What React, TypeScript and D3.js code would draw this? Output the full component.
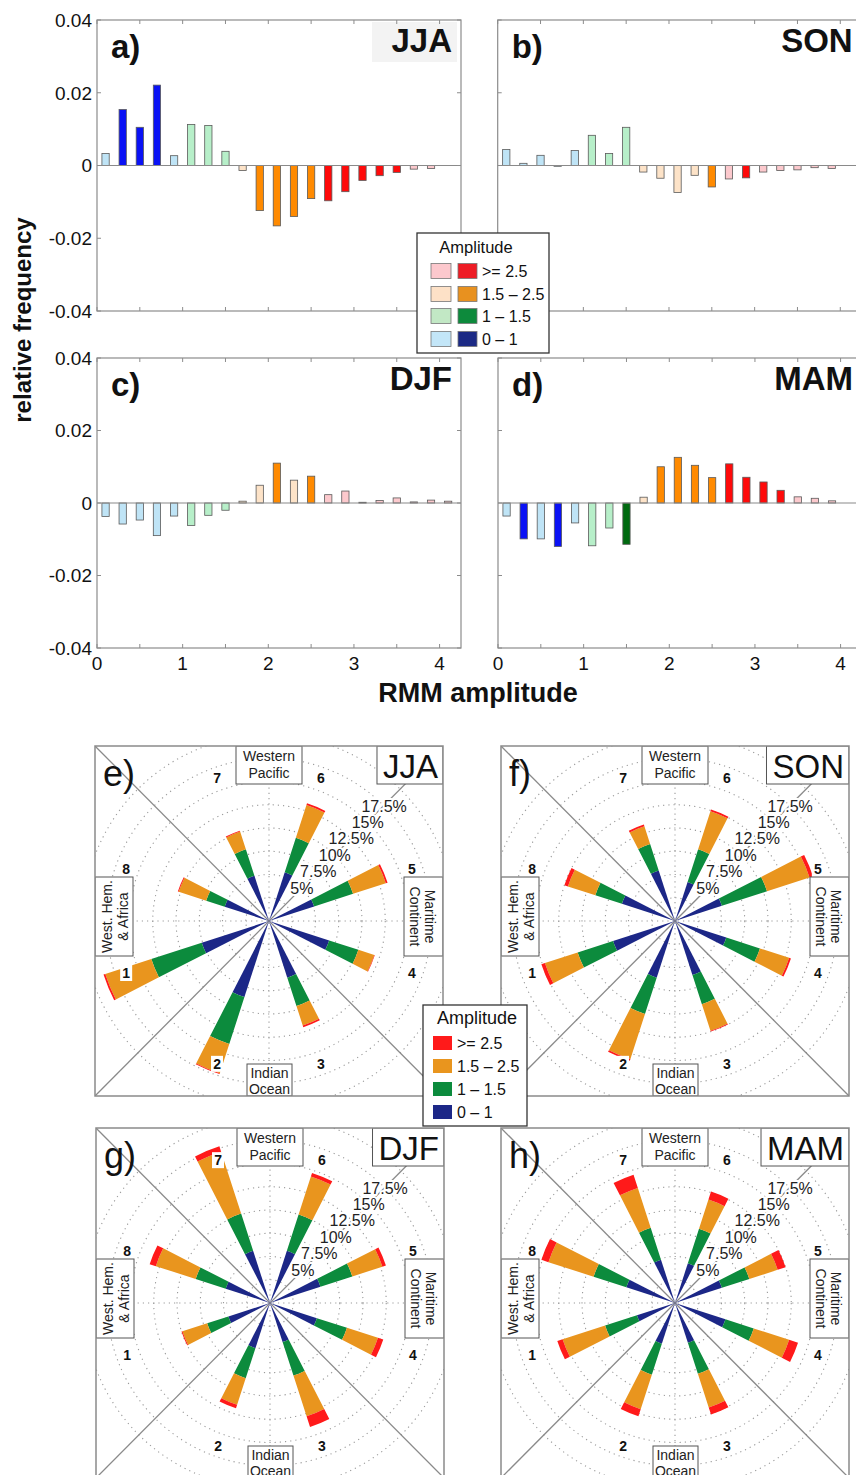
import React from "react";
import * as d3 from "d3";

const FONT = "'Liberation Sans', Arial, Helvetica, sans-serif";

// ---------------- Bar-chart data (relative frequency per RMM amplitude bin) ----------------
const binCenters = [0.1, 0.3, 0.5, 0.7, 0.9, 1.1, 1.3, 1.5, 1.7, 1.9, 2.1, 2.3, 2.5, 2.7, 2.9, 3.1, 3.3, 3.5, 3.7, 3.9, 4.1];

const freqJJA = [0.0033, 0.0154, 0.0105, 0.0221, 0.0027, 0.0113, 0.011, 0.0039, -0.0014, -0.0124, -0.0166, -0.014, -0.0091, -0.0097, -0.0072, -0.0041, -0.0028, -0.0019, -0.001, -0.0008, 0];
const sigJJA = [0, 1, 1, 1, 0, 0, 0, 0, 0, 1, 1, 1, 1, 1, 1, 1, 1, 1, 0, 0, 0];

const freqSON = [0.0044, 0.0006, 0.0028, -0.0002, 0.0041, 0.0083, 0.0033, 0.0105, -0.0018, -0.0035, -0.0074, -0.0027, -0.0059, -0.0037, -0.0034, -0.0018, -0.0014, -0.0012, -0.0006, -0.0008, 0];
const sigSON = [0, 0, 0, 0, 0, 0, 0, 0, 0, 0, 0, 0, 1, 0, 1, 0, 0, 0, 0, 0, 0];

const freqDJF = [-0.0037, -0.0058, -0.0047, -0.009, -0.0036, -0.0062, -0.0034, -0.002, 0.0005, 0.0049, 0.011, 0.0063, 0.0074, 0.0023, 0.0033, 0.0002, 0.0007, 0.0014, 0.0003, 0.0008, 0.0005];
const sigDJF = [0, 0, 0, 0, 0, 0, 0, 0, 0, 0, 1, 0, 1, 0, 0, 0, 0, 0, 0, 0, 0];

const freqMAM = [-0.0036, -0.0099, -0.0099, -0.012, -0.0055, -0.0118, -0.0069, -0.0114, 0.0016, 0.01, 0.0126, 0.0104, 0.007, 0.0108, 0.0071, 0.0058, 0.0035, 0.0017, 0.0013, 0.0006, 0];
const sigMAM = [0, 1, 0, 1, 0, 0, 0, 1, 0, 1, 1, 1, 1, 1, 1, 1, 1, 0, 0, 0, 0];

const yTickValues = [-0.04, -0.02, 0, 0.02, 0.04];
const yTickLabels = ["-0.04", "-0.02", "0", "0.02", "0.04"];
const xTickValues = [0, 1, 2, 3, 4];
const xTickLabels = ["0", "1", "2", "3", "4"];
const xMinorTickValues = [0, 0.5, 1, 1.5, 2, 2.5, 3, 3.5, 4];

// ---------------- Phase-rose data (% of days per phase, by amplitude class) ----------------
const phaseNames = ["1", "2", "3", "4", "5", "6", "7", "8"];

const blueJJA = [7.6, 8.6, 6.4, 6.8, 5.1, 5.5, 5.1, 5.0];
const greenJJA = [5.7, 5.3, 3.2, 3.3, 4.4, 3.9, 3.0, 2.1];
const orangeJJA = [5.2, 3.3, 2.2, 1.8, 3.7, 3.7, 2.0, 3.1];
const redJJA = [0.2, 0.1, 0.2, 0.05, 0.2, 0.2, 0.1, 0.1];

const blueSON = [7.0, 6.4, 6.1, 5.8, 5.3, 4.4, 5.7, 6.0];
const greenSON = [4.0, 4.1, 3.3, 3.8, 5.1, 3.7, 3.0, 3.0];
const orangeSON = [3.7, 5.1, 3.0, 3.3, 4.8, 4.3, 2.0, 3.1];
const redSON = [0.4, 0.2, 0.1, 0.2, 0.4, 0.2, 0.2, 0.4];

const blueDJF = [4.7, 5.1, 4.4, 5.3, 5.7, 5.9, 5.9, 5.0];
const greenDJF = [2.4, 3.4, 3.8, 3.4, 3.6, 4.1, 4.2, 3.4];
const orangeDJF = [2.8, 3.0, 4.6, 3.5, 3.4, 4.3, 7.0, 4.5];
const redDJF = [0.1, 0.4, 1.2, 0.6, 0.4, 0.4, 0.6, 0.7];

const blueMAM = [4.3, 4.6, 4.5, 5.7, 5.3, 4.5, 4.9, 5.5];
const greenMAM = [3.6, 3.5, 3.5, 3.2, 3.1, 3.9, 3.6, 3.7];
const orangeMAM = [4.8, 3.9, 3.8, 4.0, 3.2, 3.3, 4.5, 5.1];
const redMAM = [0.6, 0.8, 0.8, 1.0, 0.9, 0.9, 1.5, 0.8];

const ringPercents = [2.5, 5, 7.5, 10, 12.5, 15, 17.5, 20];
const ringLabelPercents = [5, 7.5, 10, 12.5, 15, 17.5];
const ringLabels = ["5%", "7.5%", "10%", "12.5%", "15%", "17.5%"];

const ampLabels = [">= 2.5", "1.5 \u2013 2.5", "1 \u2013 1.5", "0 \u2013 1"];

// ---------------- colours ----------------
const roseColors = ["#1c2787", "#0c8b3d", "#e9951e", "#ff1a1a"]; // 0-1, 1-1.5, 1.5-2.5, >=2.5
const legendDark = ["#ee1c25", "#e8911f", "#0d8a3c", "#1c2a85"];
const legendLight = ["#fcc8cd", "#fde1c7", "#c2e8c5", "#c3e6f8"];

function barColor(c: number, sig: number) {
  if (c < 1) return sig ? "#0a12f5" : "#bfe4f6";
  if (c < 1.6) return sig ? "#006a10" : "#b7efc9";
  if (c < 2.6) return sig ? "#ff8a00" : "#fde3c8";
  return sig ? "#ff0a0a" : "#fcc9cd";
}

const charW: Record<string, number> = { J: 0.5, A: 0.667, S: 0.667, O: 0.778, N: 0.722, D: 0.722, F: 0.611, M: 0.833 };

// ---------------- Bar panel ----------------
function BarPanel(props: {
  x0: number; yTop: number; yBot: number; tag: string; season: string;
  freq: number[]; sig: number[]; yLabels: boolean; xLabels: boolean; seasonBg?: boolean;
}) {
  const { x0, yTop, yBot, tag, season, freq, sig, yLabels, xLabels, seasonBg } = props;
  const xs = d3.scaleLinear().domain([0, 4.25]).range([x0, x0 + 364]);
  const ys = d3.scaleLinear().domain([-0.04, 0.04]).range([yBot, yTop]);
  const xr = xs(4.25);
  const bw = xs(0.085) - xs(0);
  const tickLen = 4;
  const frame = "#8c8c8c";
  return (
    <g>
      <rect x={x0} y={yTop} width={xr - x0} height={yBot - yTop} fill="white" stroke="none" />
      {seasonBg && <rect x={xr - 89} y={yTop + 2} width={85} height={40} fill="#f3f3f3" />}
      {binCenters.map((c, i) => {
        const v = freq[i];
        if (Math.abs(v) < 1e-6) return null;
        const yA = ys(Math.max(v, 0));
        const yB = ys(Math.min(v, 0));
        return (
          <rect key={i} x={xs(c) - bw / 2} y={yA} width={bw} height={Math.max(yB - yA, 0.8)}
            fill={barColor(c, sig[i])} stroke="#5a5a5a" strokeWidth={0.8} />
        );
      })}
      <line x1={x0} x2={xr} y1={ys(0)} y2={ys(0)} stroke="#8a8a8a" strokeWidth={1.2} />
      {xMinorTickValues.map((t) => (
        <g key={"xt" + t}>
          <line x1={xs(t)} x2={xs(t)} y1={yTop} y2={yTop + tickLen} stroke={frame} />
          <line x1={xs(t)} x2={xs(t)} y1={yBot} y2={yBot - tickLen} stroke={frame} />
        </g>
      ))}
      {yTickValues.map((t) => (
        <g key={"yt" + t}>
          <line x1={x0} x2={x0 + tickLen} y1={ys(t)} y2={ys(t)} stroke={frame} />
          <line x1={xr} x2={xr - tickLen} y1={ys(t)} y2={ys(t)} stroke={frame} />
        </g>
      ))}
      <rect x={x0} y={yTop} width={xr - x0} height={yBot - yTop} fill="none" stroke={frame} strokeWidth={1.2} />
      {yLabels && yTickValues.map((t, i) => (
        <text key={"yl" + t} x={x0 - 5} y={ys(t)} dy="0.36em" textAnchor="end" fontSize={19} fill="#111">{yTickLabels[i]}</text>
      ))}
      {xLabels && xTickValues.map((t, i) => (
        <text key={"xl" + t} x={xs(t)} y={yBot + 15} dy="0.36em" textAnchor="middle" fontSize={19} fill="#111">{xTickLabels[i]}</text>
      ))}
      <text x={x0 + 14} y={yTop + 38} fontSize={33} fontWeight="bold" fill="#111">{tag}</text>
      <text x={xr - 9} y={yTop + 32} fontSize={33} fontWeight="bold" textAnchor="end" fill="#111">{season}</text>
    </g>
  );
}

// ---------------- Rose panel ----------------
function RosePanel(props: {
  cx: number; cy: number; tag: string; season: string; id: string;
  blue: number[]; green: number[]; orange: number[]; red: number[];
}) {
  const { cx, cy, tag, season, id, blue, green, orange, red } = props;
  const hw = 174, hh = 175;
  const L = cx - hw, R = cx + hw, T = cy - hh, B = cy + hh;
  const rs = d3.scaleLinear().domain([0, 20]).range([0, 186]);
  const arc = d3.arc<any>();
  const rad = (d: number) => (d * Math.PI) / 180;
  const petalAngle = (i: number) => 247.5 - 45 * i;
  const labelAngle = [250, 200, 160, 110, 70, 20, -20, -70];
  const halfW = 4.6;
  const seasonW = season.split("").reduce((s, ch) => s + (charW[ch] || 0.7), 0) * 33 + 11;
  const grid = "#9a9a9a";
  return (
    <g>
      <defs>
        <clipPath id={id}>
          <rect x={L} y={T} width={R - L} height={B - T} />
        </clipPath>
      </defs>
      <rect x={L} y={T} width={R - L} height={B - T} fill="white" />
      <g clipPath={`url(#${id})`}>
        {ringPercents.map((p) => (
          <circle key={p} cx={cx} cy={cy} r={rs(p)} fill="none" stroke={grid} strokeWidth={1.1} strokeDasharray="1.2 4" />
        ))}
        <line x1={L} x2={R} y1={cy} y2={cy} stroke={grid} strokeWidth={1.1} strokeDasharray="1.2 4" />
        <line x1={cx} x2={cx} y1={T} y2={B} stroke={grid} strokeWidth={1.1} strokeDasharray="1.2 4" />
        <line x1={L} y1={T} x2={R} y2={B} stroke="#8a8a8a" strokeWidth={1.3} />
        <line x1={L} y1={B} x2={R} y2={T} stroke="#8a8a8a" strokeWidth={1.3} />
        <g transform={`translate(${cx},${cy})`}>
          {phaseNames.map((ph, i) => {
            const segs = [blue[i], green[i], orange[i], red[i]];
            let acc = 0;
            const a = petalAngle(i);
            return (
              <g key={ph}>
                {segs.map((v, j) => {
                  const inner = acc;
                  acc += v;
                  if (v < 0.01) return null;
                  const d = arc({
                    innerRadius: rs(inner), outerRadius: rs(acc),
                    startAngle: rad(a - halfW), endAngle: rad(a + halfW),
                  });
                  return <path key={j} d={d || ""} fill={roseColors[j]} />;
                })}
              </g>
            );
          })}
          {ringLabelPercents.map((p, i) => {
            const r = rs(p);
            return (
              <text key={p} x={r * Math.SQRT1_2} y={-r * Math.SQRT1_2} dy="0.35em" textAnchor="middle"
                fontSize={16} fill="#222" stroke="white" strokeWidth={4} paintOrder="stroke" strokeLinejoin="round">{ringLabels[i]}</text>
            );
          })}
          {phaseNames.map((ph, i) => {
            const a = rad(labelAngle[i]);
            const px = 152 * Math.sin(a);
            const py = -152 * Math.cos(a);
            return (
              <g key={"pl" + ph}>
                <rect x={px - 6} y={py - 8} width={12} height={16} fill="white" />
                <text x={px} y={py} dy="0.36em" textAnchor="middle" fontSize={14} fontWeight="bold" fill="#111">{ph}</text>
              </g>
            );
          })}
        </g>
        {/* region boxes */}
        <rect x={cx - 33} y={T} width={66} height={38} fill="white" stroke="#555" strokeWidth={1} />
        <text x={cx} y={T + 15} textAnchor="middle" fontSize={14} fill="#222">Western</text>
        <text x={cx} y={T + 32} textAnchor="middle" fontSize={14} fill="#222">Pacific</text>

        <rect x={cx - 22} y={B - 32} width={45} height={32} fill="white" stroke="#555" strokeWidth={1} />
        <text x={cx + 0.5} y={B - 18} textAnchor="middle" fontSize={14} fill="#222">Indian</text>
        <text x={cx + 0.5} y={B - 2} textAnchor="middle" fontSize={14} fill="#222">Ocean</text>

        <rect x={L} y={cy - 44} width={38} height={79} fill="white" stroke="#555" strokeWidth={1} />
        <text transform={`translate(${L + 17},${cy - 4.5}) rotate(-90)`} textAnchor="middle" fontSize={14} fill="#222">West. Hem.</text>
        <text transform={`translate(${L + 33},${cy - 4.5}) rotate(-90)`} textAnchor="middle" fontSize={14} fill="#222">&amp; Africa</text>

        <rect x={R - 39} y={cy - 44} width={39} height={79} fill="white" stroke="#555" strokeWidth={1} />
        <text transform={`translate(${R - 18},${cy - 4.5}) rotate(90)`} textAnchor="middle" fontSize={14} fill="#222">Maritime</text>
        <text transform={`translate(${R - 33},${cy - 4.5}) rotate(90)`} textAnchor="middle" fontSize={14} fill="#222">Continent</text>

        {/* season box */}
        <rect x={R - seasonW} y={T} width={seasonW} height={38} fill="white" stroke="#555" strokeWidth={1} />
        <text x={R - 5} y={T + 32} textAnchor="end" fontSize={33} fill="#111">{season}</text>
        <text x={L + 8} y={T + 40} fontSize={36} fill="#111">{tag}</text>
      </g>
      <rect x={L} y={T} width={R - L} height={B - T} fill="none" stroke="#8a8a8a" strokeWidth={1.5} />
    </g>
  );
}

function BarLegend() {
  const rows = [271, 294, 316, 339];
  return (
    <g>
      <rect x={417} y={233} width={132} height={120} fill="white" stroke="#333" strokeWidth={1.3} />
      <text x={476} y={253} textAnchor="middle" fontSize={16.5} fill="#111">Amplitude</text>
      {rows.map((y, i) => (
        <g key={i}>
          <rect x={431} y={y - 7.5} width={20} height={15} fill={legendLight[i]} stroke="#777" strokeWidth={0.8} />
          <rect x={458} y={y - 7.5} width={19} height={15} fill={legendDark[i]} stroke="#777" strokeWidth={0.8} />
          <text x={482} y={y} dy="0.36em" fontSize={16} fill="#111">{ampLabels[i]}</text>
        </g>
      ))}
    </g>
  );
}

function RoseLegend() {
  const rows = [1043, 1066, 1089, 1112];
  const cols = [roseColors[3], roseColors[2], roseColors[1], roseColors[0]];
  return (
    <g>
      <rect x={423} y={1005} width={104} height={121} fill="white" stroke="#333" strokeWidth={1.3} />
      <text x={477} y={1024} textAnchor="middle" fontSize={18} fill="#111">Amplitude</text>
      {rows.map((y, i) => (
        <g key={i}>
          <rect x={433} y={y - 7} width={19} height={14} fill={cols[i]} />
          <text x={457} y={y} dy="0.36em" fontSize={16} fill="#111">{ampLabels[i]}</text>
        </g>
      ))}
    </g>
  );
}

export default function App() {
  return (
    <svg width={856} height={1475} style={{ position: "absolute", left: 0, top: 0, background: "white" }}
      fontFamily={FONT}>
      <rect x={0} y={0} width={856} height={1475} fill="white" />
      <BarPanel x0={97} yTop={20} yBot={311} tag="a)" season="JJA" freq={freqJJA} sig={sigJJA} yLabels={true} xLabels={false} seasonBg={true} />
      <BarPanel x0={497.7} yTop={20} yBot={311} tag="b)" season="SON" freq={freqSON} sig={sigSON} yLabels={false} xLabels={false} />
      <BarPanel x0={97} yTop={358} yBot={648} tag="c)" season="DJF" freq={freqDJF} sig={sigDJF} yLabels={true} xLabels={true} />
      <BarPanel x0={498} yTop={358} yBot={648} tag="d)" season="MAM" freq={freqMAM} sig={sigMAM} yLabels={false} xLabels={true} />
      <text transform="translate(31,320) rotate(-90)" textAnchor="middle" fontSize={24} fontWeight="bold" fill="#111">relative frequency</text>
      <text x={478} y={702} textAnchor="middle" fontSize={27} fontWeight="bold" fill="#111">RMM amplitude</text>
      <BarLegend />

      <RosePanel cx={269} cy={921} tag="e)" season="JJA" id="clipE" blue={blueJJA} green={greenJJA} orange={orangeJJA} red={redJJA} />
      <RosePanel cx={675} cy={921} tag="f)" season="SON" id="clipF" blue={blueSON} green={greenSON} orange={orangeSON} red={redSON} />
      <RosePanel cx={270} cy={1303} tag="g)" season="DJF" id="clipG" blue={blueDJF} green={greenDJF} orange={orangeDJF} red={redDJF} />
      <RosePanel cx={675} cy={1303} tag="h)" season="MAM" id="clipH" blue={blueMAM} green={greenMAM} orange={orangeMAM} red={redMAM} />
      <RoseLegend />
    </svg>
  );
}
